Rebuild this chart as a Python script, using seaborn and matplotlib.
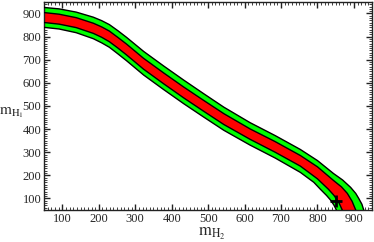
import numpy as np
import matplotlib
matplotlib.use("Agg")
import matplotlib.pyplot as plt
from matplotlib.ticker import MultipleLocator
import seaborn as sns

# band edges (m_H2, m_H1)
green_top_x = [50, 91, 138, 185, 208, 229, 252, 276, 323, 378, 433, 488, 543, 615, 684, 753, 800, 844, 869, 891, 905, 913, 922, 927]
green_top_y = [926, 920, 906, 884, 869, 852, 826, 797, 736, 673, 612, 553, 495, 428, 372, 312, 264, 208, 180, 148, 122, 101, 75, 50]

red_top_x = [50, 91, 138, 185, 208, 229, 252, 276, 323, 378, 433, 488, 543, 615, 684, 753, 800, 844, 866, 882, 895, 905]
red_top_y = [904, 897, 882, 858, 842, 824, 797, 768, 706, 643, 582, 524, 467, 401, 346, 286, 237, 178, 150, 122, 88, 50]

red_bottom_x = [50, 91, 138, 185, 208, 229, 252, 276, 323, 378, 433, 488, 543, 615, 684, 753, 800, 830, 845, 858, 868]
red_bottom_y = [861, 854, 839, 814, 797, 778, 751, 721, 659, 596, 535, 477, 420, 356, 300, 240, 185, 140, 114, 85, 50]

green_bottom_x = [50, 91, 138, 185, 208, 229, 252, 276, 323, 378, 433, 488, 543, 615, 684, 753, 790, 808, 825, 836, 845, 852]
green_bottom_y = [840, 833, 817, 791, 773, 754, 726, 696, 634, 571, 510, 452, 395, 331, 275, 213, 170, 140, 113, 93, 72, 50]

best_x = [852]
best_y = [88]

sns.set_style("ticks")
plt.rcParams['font.family'] = ['Liberation Serif', 'DejaVu Serif']
plt.rcParams['mathtext.fontset'] = 'stix'

fig = plt.figure(figsize=(3.74, 2.42), dpi=100)
ax = fig.add_axes([0.118, 0.132, 0.877, 0.86])

# outer (green) and inner (red) bands
ax.fill(np.concatenate([green_top_x, green_bottom_x[::-1]]),
        np.concatenate([green_top_y, green_bottom_y[::-1]]),
        color='#00ff00', lw=0, zorder=1)
ax.fill(np.concatenate([red_top_x, red_bottom_x[::-1]]),
        np.concatenate([red_top_y, red_bottom_y[::-1]]),
        color='#ff0000', lw=0, zorder=2)

for cx, cy in [(green_top_x, green_top_y), (red_top_x, red_top_y),
               (red_bottom_x, red_bottom_y), (green_bottom_x, green_bottom_y)]:
    sns.lineplot(x=cx, y=cy, sort=False, color='black', lw=1.0, ax=ax,
                 estimator=None, zorder=3)

ax.plot(best_x, best_y, marker='+', color='black', ms=8, mew=2, ls='none', zorder=4)

ax.set_xlim(50, 950)
ax.set_ylim(50, 950)
ax.xaxis.set_major_locator(MultipleLocator(100))
ax.yaxis.set_major_locator(MultipleLocator(100))
ax.xaxis.set_minor_locator(MultipleLocator(10))
ax.yaxis.set_minor_locator(MultipleLocator(10))
ax.tick_params(which='both', direction='in', top=True, right=True,
               labelsize=9, color='#222222', pad=2)
ax.tick_params(which='major', length=4, width=1)
ax.tick_params(which='minor', length=2, width=0.6)
for sp in ax.spines.values():
    sp.set_linewidth(1.0)
    sp.set_color('#222222')

ax.set_xlabel(r'$\mathrm{m}_{\mathrm{H}_2}$', fontsize=12)
ax.set_ylabel(r'$\mathrm{m}_{\mathrm{H}_1}$', fontsize=11, rotation=0, va='center', ha='center')
ax.xaxis.set_label_coords(0.51, -0.078)
ax.yaxis.set_label_coords(-0.1, 0.47)

fig.savefig('out.png', dpi=100)
